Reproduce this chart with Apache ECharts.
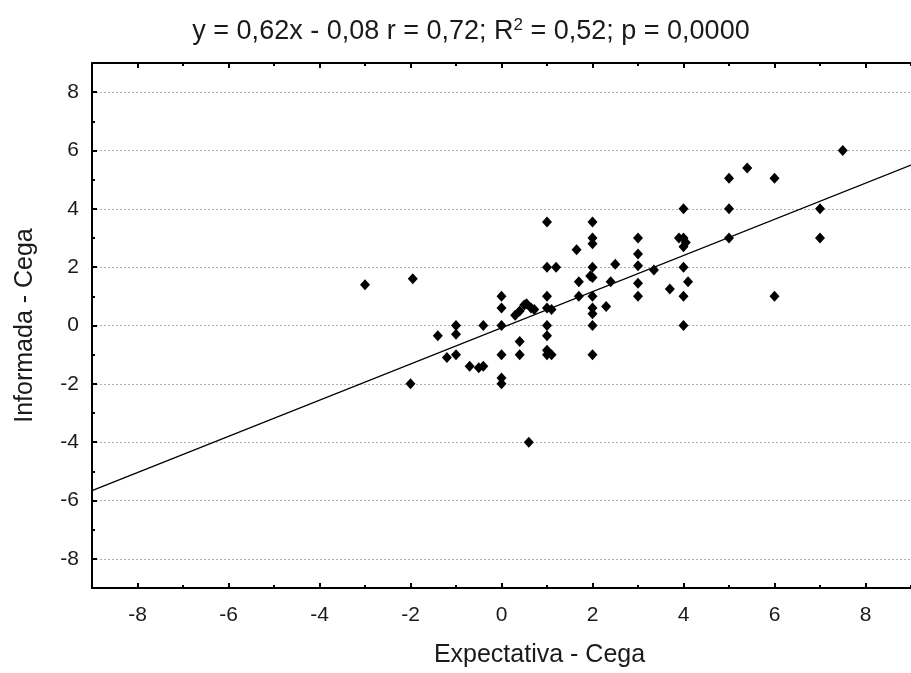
<!DOCTYPE html>
<html><head><meta charset="utf-8">
<script src="https://cdn.jsdelivr.net/npm/echarts@6/dist/echarts.min.js"></script>
<style>html,body{margin:0;padding:0;background:#fff}#c{width:911px;height:673px}</style>
</head><body><div id="c"></div>
<script>
const xValues = [-3,-1.95,-2,-1.4,-1,-1,-1.2,-1,-0.7,-0.5,-0.4,-0.4,
  0,0,0,0,0,0,
  0.3,0.4,0.5,0.55,0.65,0.72,0.4,0.4,0.6,
  1,1,1.2,1,1,1.1,1,1,1,1,1.1,
  1.65,1.7,1.7,
  2,2,2,2,1.95,2,2,2,2,2,2,2.5,2.4,2.3,
  3,3,3,3,3,3.35,3.7,
  4,4,3.9,4.05,4,4,4.1,4,4,
  5,5,5,5.4,6,6,7,7,7.5];
const yValues = [1.4,1.6,-2,-0.35,0,-0.3,-1.1,-1,-1.4,-1.45,-1.4,0,
  1,0.6,0,-1,-1.8,-2,
  0.35,0.5,0.7,0.75,0.6,0.55,-0.55,-1,-4,
  3.55,2,2,1,0.6,0.55,0,-0.35,-0.85,-1,-1,
  2.6,1.5,1,
  3.55,3,2.8,2,1.7,1.65,1,0.6,0.4,0,-1,2.1,1.5,0.65,
  3,2.45,2.05,1.45,1,1.9,1.25,
  4,3,3,2.85,2.7,2,1.5,1,0,
  5.05,4,3,5.4,5.05,1,4,3,6];
const slope = 0.62, intercept = -0.08;
const lineX = [-9, 9];
const majorTicks = [-8,-6,-4,-2,0,2,4,6,8];
const minorTicks = [-9,-7,-5,-3,-1,1,3,5,7,9];
const titleText = 'y = 0,62x - 0,08 r = 0,72; R{sup|2} = 0,52; p = 0,0000';
const xName = 'Expectativa - Cega';
const yName = 'Informada - Cega';

const points = xValues.map((x, i) => [x, yValues[i]]);
const linePts = lineX.map(x => [x, slope * x + intercept]);
const txt = '#1a1a1a';
const font = 'Liberation Sans, Arial, sans-serif';

function axisPair(kind, pos, withLabel) {
  const base = {type: 'value', min: -9, max: 9, position: pos, splitLine: {show: false}, z: 5};
  const major = Object.assign({}, base, {
    axisLine: {show: true, onZero: false, lineStyle: {color: '#000', width: 2}},
    axisTick: {show: true, inside: true, length: 5, customValues: majorTicks, lineStyle: {color: '#000', width: 2}},
    axisLabel: withLabel ? {show: true, customValues: majorTicks, color: txt, fontSize: 21, fontFamily: font, margin: kind === 'x' ? 17 : 13} : {show: false}
  });
  const minor = Object.assign({}, base, {
    axisLine: {show: false, onZero: false},
    axisTick: {show: true, inside: true, length: 3, customValues: minorTicks, lineStyle: {color: '#000', width: 2}},
    axisLabel: {show: false}
  });
  return [major, minor];
}

const xAxes = axisPair('x', 'bottom', true).concat(axisPair('x', 'top', false));
xAxes[0].name = xName; xAxes[0].nameLocation = 'middle'; xAxes[0].nameGap = 55;
xAxes[0].nameTextStyle = {color: txt, fontSize: 25, fontFamily: font, padding: [0, 0, 0, 76]};
const yAxes = axisPair('y', 'left', true);
yAxes[0].name = yName; yAxes[0].nameLocation = 'middle'; yAxes[0].nameGap = 54;
yAxes[0].nameTextStyle = {color: txt, fontSize: 25, fontFamily: font};

const chart = echarts.init(document.getElementById('c'), null, {renderer: 'canvas'});
chart.setOption({
  animation: false,
  backgroundColor: '#fff',
  title: {
    text: titleText, left: 466, top: 12, textAlign: 'center',
    textStyle: {color: txt, fontSize: 27, fontWeight: 'normal', fontFamily: font,
      rich: {sup: {fontSize: 17, verticalAlign: 'top', padding: [0, 0, 13, 0], color: txt, fontFamily: font}}}
  },
  grid: {left: 92, top: 63, right: -7, bottom: 84, containLabel: false},
  xAxis: xAxes,
  yAxis: yAxes,
  series: [
    {
      type: 'line', data: linePts, xAxisIndex: 0, yAxisIndex: 0, symbol: 'none',
      lineStyle: {color: '#000', width: 1.3}, z: 3,
      markLine: {
        silent: true, symbol: 'none', label: {show: false}, z: 1,
        lineStyle: {color: '#b0b0b0', type: [2, 2], width: 1},
        data: majorTicks.map(v => ({yAxis: v}))
      }
    },
    {
      type: 'scatter', data: points, xAxisIndex: 0, yAxisIndex: 0,
      symbol: 'diamond', symbolSize: [10, 11], itemStyle: {color: '#000', opacity: 1}, z: 4
    }
  ]
});
</script></body></html>
